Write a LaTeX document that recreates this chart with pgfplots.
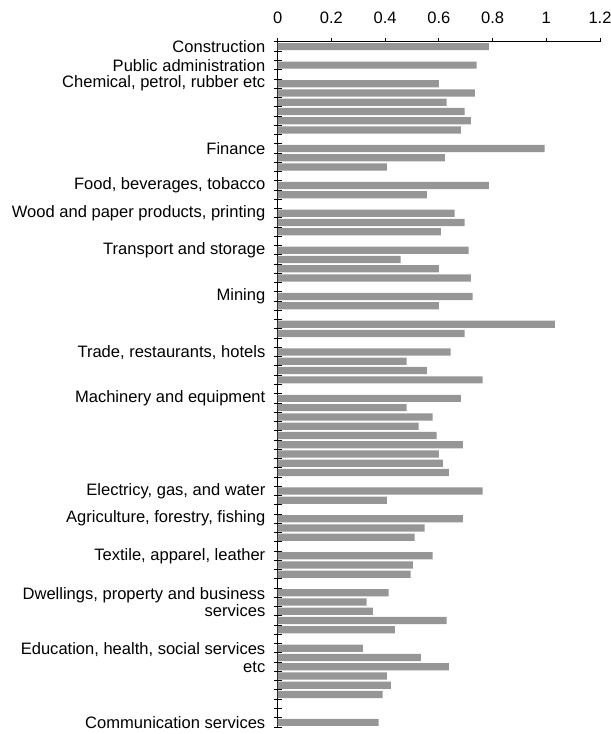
\documentclass[border=0pt]{standalone}
\usepackage{fontspec}
\setmainfont{Liberation Sans}
\usepackage{pgfplots}
\pgfplotsset{compat=1.18}
\definecolor{barcol}{RGB}{150,150,150}
\begin{document}
\fontsize{12.4}{13}\selectfont
\begin{tikzpicture}
\begin{axis}[
 scale only axis, width=241.7pt, height=513.75pt,
 xmin=0, xmax=1.2, ymin=-73.5, ymax=0.5,
 axis x line*=top, axis y line*=left,
 xbar, bar width=0.78, bar shift=0pt,
 xtick={0,0.2,0.4,0.6,0.8,1,1.2},
 xticklabels={0,0.2,0.4,0.6,0.8,1,1.2},
 xtick align=outside, major tick length=3pt,
 xticklabel style={yshift=6.5pt},
 ytick={0,-2,-4,-11,-15,-18,-22,-27,-33,-38,-48,-51,-55,-60,-66,-73},
 yticklabels={Construction, Public administration, {Chemical, petrol, rubber etc}, Finance, {Food, beverages, tobacco}, {Wood and paper products, printing}, Transport and storage, Mining, {Trade, restaurants, hotels}, Machinery and equipment, {Electricy, gas, and water}, {Agriculture, forestry, fishing}, {Textile, apparel, leather}, {Dwellings, property and business\\services}, {Education, health, social services\\etc}, Communication services},
 major y tick style={draw=none},
 minor ytick={0.5,-0.5,...,-73.5},
 minor tick length=6pt, ytick align=center,
 yticklabel style={align=right, xshift=-3.5pt},
 tick label style={font=\fontsize{12.4}{12.8}\selectfont},
 /pgf/number format/assume math mode=true,
 axis line style={line width=0.75pt},
 tick style={black, line width=0.75pt},
 clip=false,
]
\addplot[fill=barcol, draw=none] coordinates {
(0.786,0) (0.741,-2) (0.600,-4) (0.734,-5) (0.629,-6) (0.696,-7) (0.719,-8) (0.682,-9)
(0.994,-11) (0.622,-12) (0.406,-13)
(0.786,-15) (0.555,-16)
(0.659,-18) (0.696,-19) (0.607,-20)
(0.711,-22) (0.458,-23) (0.600,-24) (0.719,-25)
(0.726,-27) (0.600,-28)
(1.032,-30) (0.696,-31)
(0.644,-33) (0.480,-34) (0.555,-35) (0.763,-36)
(0.682,-38) (0.480,-39) (0.577,-40) (0.525,-41) (0.592,-42) (0.689,-43) (0.600,-44) (0.615,-45) (0.637,-46)
(0.763,-48) (0.406,-49)
(0.689,-51) (0.547,-52) (0.510,-53)
(0.577,-55) (0.503,-56) (0.495,-57)
(0.413,-59) (0.331,-60) (0.354,-61) (0.629,-62) (0.436,-63)
(0.317,-65) (0.533,-66) (0.637,-67) (0.406,-68) (0.421,-69) (0.391,-70)
(0.376,-73)
};
\end{axis}
\pgfresetboundingbox
\useasboundingbox ([shift={(-208.3pt,-5.25pt)}]current axis.south west) rectangle ([shift={(7.5pt,31.5pt)}]current axis.north east);
\end{tikzpicture}
\end{document}
